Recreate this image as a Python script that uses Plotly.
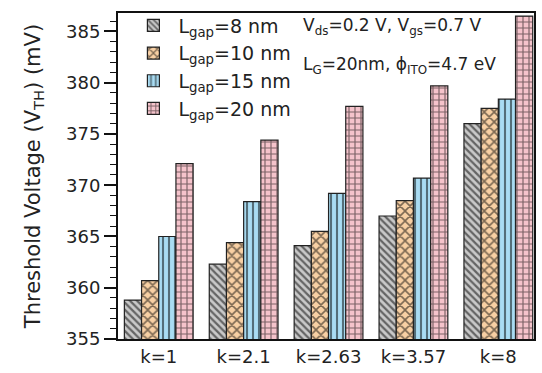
import plotly.graph_objects as go

categories = ["k=1", "k=2.1", "k=2.63", "k=3.57", "k=8"]
series_names = ["L<sub>gap</sub>=8 nm", "L<sub>gap</sub>=10 nm", "L<sub>gap</sub>=15 nm", "L<sub>gap</sub>=20 nm"]
vth_8nm = [358.8, 362.3, 364.1, 367.0, 376.0]
vth_10nm = [360.7, 364.4, 365.5, 368.5, 377.5]
vth_15nm = [365.0, 368.4, 369.2, 370.7, 378.4]
vth_20nm = [372.1, 374.4, 377.7, 379.7, 386.5]

series_values = [vth_8nm, vth_10nm, vth_15nm, vth_20nm]
fills = ["#c9c9c9", "#f8d0a4", "#a9dcf3", "#f5c3cb"]
shapes = ["\\", "x", "|", "+"]
sizes = [5, 7, 6, 6]
solid = [0.45, 0.4, 0.35, 0.35]

FONT = "DejaVu Sans, Arial"

fig = go.Figure()
for name, vals, fc, sh, sz, so in zip(series_names, series_values, fills, shapes, sizes, solid):
    fig.add_trace(go.Bar(
        x=categories, y=vals, name=name, base=0,
        marker=dict(color=fc, line=dict(color="#222222", width=1.2),
                    pattern=dict(shape=sh, fgcolor="#000000", bgcolor=fc, size=sz, solidity=so)),
    ))

fig.update_layout(
    width=542, height=373,
    margin=dict(l=118, r=6, t=12, b=25),
    paper_bgcolor="white", plot_bgcolor="white",
    barmode="group", bargap=0.19, bargroupgap=0,
    font=dict(family=FONT, size=18, color="#222222"),
    showlegend=True,
    legend=dict(x=0.025, y=1.02, xanchor="left", yanchor="top",
                bgcolor="rgba(0,0,0,0)", font=dict(size=19, family=FONT), tracegroupgap=0,
                itemwidth=40),
    xaxis=dict(range=[-0.48, 4.42], showline=True, linecolor="#111111", linewidth=2,
               mirror=True, ticks="", tickfont=dict(size=18, family=FONT)),
    yaxis=dict(range=[355, 386.8], showline=True, linecolor="#111111", linewidth=2,
               mirror=True, ticks="outside", ticklen=12, tickwidth=1.5, tickcolor="#111111",
               dtick=5, tick0=355, showgrid=False, zeroline=False,
               tickfont=dict(size=18, family=FONT),
               minor=dict(dtick=1, ticks="outside", ticklen=6, tickcolor="#111111", tickwidth=1),
               title=dict(text="Threshold Voltage (V<sub>TH</sub>) (mV)",
                          font=dict(size=21, family=FONT), standoff=20)),
    annotations=[
        dict(text="V<sub>ds</sub>=0.2 V, V<sub>gs</sub>=0.7 V", xref="paper", yref="paper",
             x=0.44, y=0.96, xanchor="left", yanchor="middle", showarrow=False,
             font=dict(size=17, family=FONT)),
        dict(text="L<sub>G</sub>=20nm, ϕ<sub>ITO</sub>=4.7 eV", xref="paper", yref="paper",
             x=0.44, y=0.84, xanchor="left", yanchor="middle", showarrow=False,
             font=dict(size=17, family=FONT)),
    ],
)

fig.write_html("out.html")
